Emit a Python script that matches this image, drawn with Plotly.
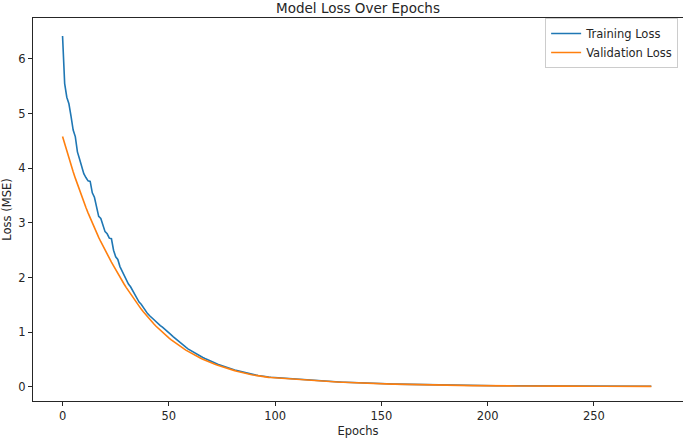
import plotly.graph_objects as go

epochs = list(range(279))

training_loss = [
    6.42, 5.55, 5.30, 5.18, 4.95, 4.70, 4.58, 4.30, 4.17, 4.05,
    3.90, 3.83, 3.77, 3.76, 3.55, 3.47, 3.28, 3.12, 3.08, 2.96,
    2.84, 2.80, 2.72, 2.71, 2.50, 2.38, 2.33, 2.20, 2.12, 2.05,
    1.95, 1.88, 1.83, 1.76, 1.69, 1.62, 1.55, 1.51, 1.45, 1.40,
    1.34, 1.30, 1.26, 1.22, 1.19, 1.16, 1.12, 1.09, 1.06, 1.02,
    0.99, 0.955, 0.92, 0.885, 0.85, 0.815, 0.785, 0.752, 0.725, 0.695,
    0.67, 0.645, 0.62, 0.60, 0.575, 0.556, 0.536, 0.517, 0.497, 0.48,
    0.462, 0.446, 0.431, 0.414, 0.399, 0.385, 0.372, 0.359, 0.345, 0.333,
    0.321, 0.309, 0.299, 0.288, 0.278, 0.267, 0.258, 0.248, 0.240, 0.231,
    0.224, 0.214, 0.207, 0.199, 0.193, 0.186, 0.181, 0.178, 0.174, 0.171,
    0.167, 0.163, 0.160, 0.157, 0.153, 0.150, 0.147, 0.144, 0.141, 0.138,
    0.135, 0.132, 0.129, 0.126, 0.123, 0.121, 0.119, 0.116, 0.114, 0.111,
    0.109, 0.107, 0.104, 0.102, 0.100, 0.098, 0.096, 0.094, 0.092, 0.090,
    0.088, 0.086, 0.084, 0.083, 0.081, 0.079, 0.078, 0.076, 0.074, 0.073,
    0.071, 0.070, 0.068, 0.067, 0.066, 0.064, 0.063, 0.062, 0.060, 0.059,
    0.058, 0.056, 0.055, 0.054, 0.053, 0.051, 0.050, 0.049, 0.048, 0.047,
    0.046, 0.045, 0.044, 0.043, 0.043, 0.042, 0.041, 0.040, 0.039, 0.038,
    0.038, 0.037, 0.036, 0.035, 0.035, 0.034, 0.033, 0.032, 0.032, 0.031,
    0.030, 0.030, 0.029, 0.029, 0.028, 0.027, 0.027, 0.026, 0.026, 0.025,
    0.025, 0.024, 0.024, 0.023, 0.023, 0.022, 0.022, 0.021, 0.021, 0.021,
    0.020, 0.020, 0.020, 0.019, 0.019, 0.019, 0.019, 0.018, 0.018, 0.018,
    0.018, 0.018, 0.017, 0.017, 0.017, 0.017, 0.017, 0.016, 0.016, 0.016,
    0.016, 0.016, 0.016, 0.015, 0.015, 0.015, 0.015, 0.015, 0.014, 0.014,
    0.014, 0.014, 0.014, 0.014, 0.014, 0.013, 0.013, 0.013, 0.013, 0.013,
    0.013, 0.013, 0.013, 0.012, 0.012, 0.012, 0.012, 0.012, 0.012, 0.012,
    0.012, 0.011, 0.011, 0.011, 0.011, 0.011, 0.011, 0.011, 0.011, 0.011,
    0.011, 0.011, 0.011, 0.010, 0.010, 0.010, 0.010, 0.010, 0.010, 0.010,
    0.010, 0.010, 0.010, 0.010, 0.010, 0.010, 0.010, 0.010,
]

validation_loss = [
    4.580, 4.443, 4.311, 4.182, 4.057, 3.936, 3.819, 3.705, 3.594, 3.487,
    3.383, 3.282, 3.184, 3.089, 2.997, 2.907, 2.821, 2.736, 2.655, 2.575,
    2.499, 2.424, 2.352, 2.282, 2.213, 2.141, 2.072, 2.005, 1.940, 1.877,
    1.816, 1.757, 1.700, 1.641, 1.583, 1.528, 1.474, 1.422, 1.372, 1.324,
    1.278, 1.233, 1.190, 1.148, 1.108, 1.069, 1.032, 0.995, 0.960, 0.927,
    0.894, 0.863, 0.833, 0.804, 0.775, 0.748, 0.722, 0.697, 0.672, 0.649,
    0.626, 0.604, 0.583, 0.562, 0.542, 0.524, 0.505, 0.487, 0.471, 0.454,
    0.438, 0.423, 0.408, 0.394, 0.380, 0.366, 0.354, 0.342, 0.329, 0.318,
    0.307, 0.296, 0.286, 0.275, 0.266, 0.257, 0.248, 0.239, 0.231, 0.222,
    0.215, 0.207, 0.200, 0.193, 0.186, 0.179, 0.176, 0.173, 0.170, 0.167,
    0.164, 0.161, 0.157, 0.154, 0.150, 0.147, 0.144, 0.141, 0.138, 0.135,
    0.132, 0.129, 0.126, 0.123, 0.121, 0.118, 0.116, 0.113, 0.111, 0.108,
    0.106, 0.104, 0.101, 0.099, 0.097, 0.095, 0.093, 0.091, 0.089, 0.087,
    0.085, 0.083, 0.082, 0.080, 0.078, 0.076, 0.075, 0.073, 0.072, 0.070,
    0.069, 0.067, 0.066, 0.064, 0.063, 0.061, 0.060, 0.059, 0.058, 0.056,
    0.055, 0.054, 0.053, 0.052, 0.051, 0.049, 0.048, 0.047, 0.046, 0.045,
    0.044, 0.043, 0.042, 0.041, 0.041, 0.040, 0.039, 0.038, 0.037, 0.036,
    0.036, 0.035, 0.034, 0.033, 0.033, 0.032, 0.031, 0.030, 0.030, 0.029,
    0.028, 0.028, 0.027, 0.027, 0.026, 0.025, 0.025, 0.024, 0.024, 0.023,
    0.023, 0.022, 0.022, 0.021, 0.021, 0.020, 0.020, 0.019, 0.019, 0.019,
    0.018, 0.018, 0.018, 0.017, 0.017, 0.017, 0.017, 0.016, 0.016, 0.016,
    0.016, 0.016, 0.015, 0.015, 0.015, 0.015, 0.015, 0.014, 0.014, 0.014,
    0.014, 0.014, 0.014, 0.013, 0.013, 0.013, 0.013, 0.013, 0.013, 0.012,
    0.012, 0.012, 0.012, 0.012, 0.012, 0.012, 0.011, 0.011, 0.011, 0.011,
    0.011, 0.011, 0.011, 0.010, 0.010, 0.010, 0.010, 0.010, 0.010, 0.010,
    0.010, 0.010, 0.009, 0.009, 0.009, 0.009, 0.009, 0.009, 0.009, 0.009,
    0.009, 0.009, 0.009, 0.008, 0.008, 0.008, 0.008, 0.008, 0.008, 0.008,
    0.008, 0.008, 0.008, 0.008, 0.008, 0.008, 0.008, 0.008,
]

x_ticks = [0, 50, 100, 150, 200, 250]
y_ticks = [0, 1, 2, 3, 4, 5, 6]

FONT = "DejaVu Sans"
TXT = "#262626"

fig = go.Figure()
fig.add_trace(go.Scatter(
    x=epochs, y=training_loss, mode="lines", name="Training Loss",
    line=dict(color="#1f77b4", width=1.6),
))
fig.add_trace(go.Scatter(
    x=epochs, y=validation_loss, mode="lines", name="Validation Loss",
    line=dict(color="#ff7f0e", width=1.6),
))

axis_common = dict(
    showline=True, linecolor="#262626", linewidth=1, mirror=True,
    ticks="outside", ticklen=4, tickwidth=1, tickcolor="#262626",
    showgrid=False, zeroline=False,
    tickfont=dict(family=FONT, size=11.5, color=TXT),
)

fig.update_layout(
    width=683, height=441,
    margin=dict(l=33, r=0, t=18, b=40),
    paper_bgcolor="white", plot_bgcolor="white",
    title=dict(text="Model Loss Over Epochs", x=0.5, xref="paper",
               xanchor="center",
               y=0.982, yref="container", yanchor="middle",
               font=dict(family=FONT, size=13.5, color=TXT)),
    xaxis=dict(range=[-13.9, 291.9], tickvals=x_ticks,
               title=dict(text="Epochs", standoff=5,
                          font=dict(family=FONT, size=11.5, color=TXT)),
               **axis_common),
    yaxis=dict(range=[-0.26, 6.75], tickvals=y_ticks,
               title=dict(text="Loss (MSE)", standoff=6,
                          font=dict(family=FONT, size=11.5, color=TXT)),
               **axis_common),
    legend=dict(x=0.9925, xanchor="right", y=1.0, yanchor="top",
                bgcolor="rgba(255,255,255,0.8)", bordercolor="#cccccc",
                borderwidth=1, font=dict(family=FONT, size=11.5, color=TXT),
                tracegroupgap=0, itemwidth=30),
    showlegend=True,
)

fig.write_html("out.html")
